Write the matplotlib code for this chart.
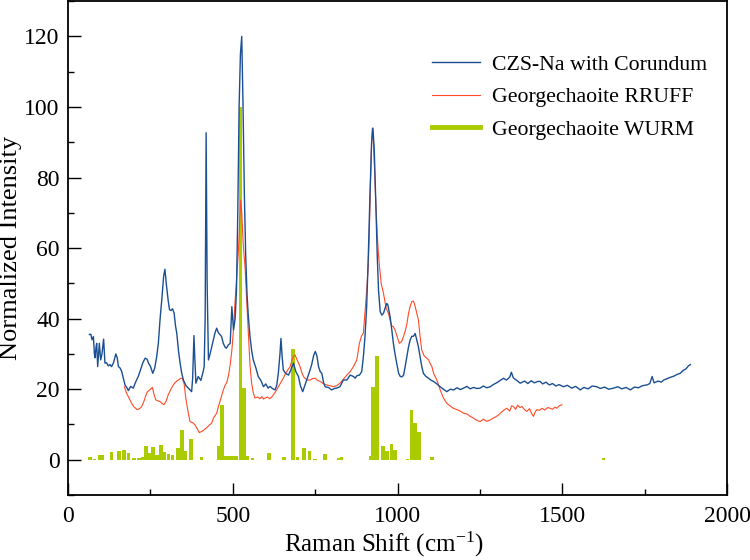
import matplotlib
matplotlib.use('Agg')
import matplotlib.pyplot as plt
from matplotlib.lines import Line2D
from matplotlib.ticker import MultipleLocator

plt.rcParams['font.family'] = ['Liberation Serif', 'DejaVu Serif']
plt.rcParams['mathtext.fontset'] = 'stix'

# CZS-Na with Corundum
czs_x = [65, 69, 73, 77, 80, 82, 85, 87, 90, 95, 99, 103, 108, 112, 117, 122, 127, 132, 138, 145,
         149, 153, 158, 163, 168, 173, 178, 183, 190, 198, 205, 213, 220, 227, 234, 240, 244, 250,
         257, 263, 269, 274, 279, 285, 290, 294, 298, 304, 308, 312, 317, 322, 326, 330, 335, 340,
         345, 350, 358, 365, 370, 375, 378, 382, 385, 388, 395, 403, 410, 413, 416, 419, 422, 426,
         431, 436, 441, 446, 451, 456, 461, 466, 471, 476, 480, 486, 492, 497, 502, 507, 511, 515,
         519, 523, 527, 531, 535, 539, 543, 547, 552, 557, 562, 570, 577, 585, 593, 600, 607, 613,
         620, 628, 633, 638, 643, 646, 649, 653, 660, 669, 676, 684, 691, 699, 705, 712, 718, 724,
         731, 739, 745, 750, 755, 760, 765, 770, 775, 780, 790, 800, 808, 815, 825, 835, 846, 856,
         866, 871, 876, 884, 891, 896, 901, 906, 911, 916, 921, 925, 929, 934, 938, 942, 947, 952,
         957, 962, 967, 970, 974, 977, 982, 987, 992, 997, 1003, 1008, 1013, 1018, 1023, 1028, 1033,
         1038, 1043, 1048, 1053, 1058, 1063, 1068, 1073, 1078, 1086, 1094, 1102, 1109, 1119, 1129,
         1139, 1149, 1160, 1170, 1180, 1190, 1200, 1210, 1220, 1230, 1240, 1250, 1260, 1270, 1281,
         1290, 1300, 1310, 1321, 1330, 1340, 1345, 1351, 1360, 1372, 1385, 1395, 1405, 1415, 1425,
         1432, 1440, 1450, 1460, 1470, 1480, 1490, 1503, 1515, 1528, 1540, 1554, 1565, 1578, 1590,
         1604, 1615, 1628, 1640, 1655, 1668, 1680, 1693, 1706, 1718, 1730, 1743, 1756, 1765, 1772,
         1778, 1790, 1800, 1807, 1818, 1828, 1838, 1848, 1857, 1866, 1875, 1882, 1888]
czs_y = [35.5, 35.6, 34.0, 34.9, 30.0, 28.9, 32.0, 33.0, 26.4, 33.0, 28.3, 30.0, 34.2, 27.4, 27.5,
         26.6, 27.0, 26.4, 27.5, 30.0, 29.0, 26.4, 26.0, 25.0, 23.0, 21.2, 20.5, 19.6, 20.8, 20.3,
         22.0, 23.6, 25.5, 27.5, 28.8, 28.5, 27.4, 26.5, 24.5, 26.0, 29.2, 33.0, 39.6, 46.0, 52.0,
         54.0, 50.0, 45.0, 42.5, 42.3, 42.8, 41.5, 38.0, 35.8, 31.0, 27.4, 24.5, 22.6, 21.0, 20.3,
         19.8, 19.3, 23.0, 35.2, 28.0, 21.7, 23.6, 22.5, 25.0, 26.4, 40.0, 92.7, 50.0, 28.3, 30.0,
         32.0, 34.0, 36.0, 37.3, 36.0, 35.5, 34.9, 33.0, 32.0, 31.6, 32.5, 33.0, 43.4, 36.8, 40.0,
         48.0, 70.0, 100.0, 115.0, 120.0, 100.0, 75.0, 58.0, 47.0, 40.6, 35.0, 31.0, 28.3, 26.0,
         23.6, 22.5, 20.7, 21.5, 20.3, 20.8, 20.2, 19.8, 21.0, 24.5, 30.0, 34.4, 30.0, 25.5, 24.5,
         24.0, 25.5, 27.4, 25.0, 23.6, 21.0, 19.3, 21.0, 22.6, 24.5, 26.9, 29.5, 30.7, 29.5, 26.4,
         25.0, 24.5, 22.0, 20.7, 20.5, 19.8, 20.2, 20.3, 20.7, 22.6, 22.6, 24.0, 23.6, 23.1, 23.8,
         24.0, 25.0, 29.2, 35.0, 43.4, 58.0, 75.0, 90.0, 94.0, 88.0, 72.0, 58.0, 48.0, 42.0, 41.0,
         41.5, 43.0, 44.3, 44.0, 42.0, 40.6, 37.0, 33.0, 30.0, 27.4, 24.5, 23.6, 23.5, 24.0, 26.5,
         29.2, 32.0, 34.0, 35.0, 35.0, 35.8, 34.0, 32.0, 29.2, 26.5, 24.5, 23.6, 23.1, 22.5, 22.2,
         21.5, 20.7, 20.0, 19.3, 20.0, 19.8, 20.4, 19.9, 20.3, 20.8, 20.1, 20.5, 20.2, 20.3, 20.9,
         20.4, 20.7, 21.3, 21.8, 22.4, 23.1, 22.6, 23.4, 24.8, 23.2, 22.6, 21.7, 22.3, 21.6, 22.4,
         21.8, 22.2, 22.2, 21.5, 22.0, 21.2, 21.6, 20.9, 21.3, 20.7, 21.1, 20.3, 20.8, 19.8, 20.5,
         20.1, 20.9, 20.7, 20.2, 20.6, 20.0, 20.3, 20.7, 20.1, 20.5, 19.8, 20.6, 20.4, 21.0, 21.2,
         21.6, 23.6, 21.8, 22.3, 22.0, 22.6, 23.0, 23.4, 23.7, 24.2, 24.5, 25.3, 25.8, 26.6, 27.0]

# Georgechaoite RRUFF
rruff_x = [171, 177, 185, 193, 200, 210, 217, 223, 230, 236, 241, 248, 256, 261, 266, 272, 279, 285,
           291, 297, 304, 312, 318, 325, 333, 342, 347, 352, 358, 365, 370, 378, 385, 392, 398, 405,
           410, 416, 425, 436, 441, 446, 451, 456, 461, 467, 472, 477, 482, 487, 492, 497, 502, 507,
           512, 517, 521, 524, 527, 531, 534, 537, 542, 547, 552, 557, 562, 567, 575, 582, 588, 593,
           598, 605, 612, 620, 627, 633, 640, 646, 653, 660, 667, 674, 680, 685, 689, 694, 699, 704,
           710, 715, 719, 726, 734, 742, 750, 757, 765, 775, 785, 795, 805, 815, 825, 835, 846, 856,
           866, 876, 884, 890, 896, 901, 906, 911, 915, 918, 921, 923, 926, 930, 934, 938, 942, 945,
           950, 957, 965, 972, 977, 982, 987, 992, 1000, 1005, 1012, 1018, 1023, 1028, 1033, 1038,
           1043, 1048, 1053, 1058, 1063, 1068, 1073, 1080, 1088, 1094, 1100, 1104, 1109, 1119, 1129,
           1139, 1149, 1160, 1169, 1180, 1190, 1200, 1210, 1220, 1230, 1240, 1250, 1260, 1270, 1281,
           1290, 1298, 1306, 1315, 1324, 1331, 1340, 1346, 1351, 1358, 1364, 1371, 1377, 1385, 1392,
           1400, 1406, 1412, 1417, 1422, 1430, 1438, 1446, 1455, 1463, 1470, 1477, 1483, 1490, 1498]
rruff_y = [20.7, 19.0, 17.5, 16.0, 15.0, 14.2, 14.5, 15.0, 16.5, 18.2, 19.3, 19.8, 20.5, 18.5, 17.0,
           16.7, 16.5, 16.0, 15.6, 16.5, 18.4, 20.0, 21.0, 21.9, 22.5, 23.1, 23.0, 21.7, 17.0, 13.2,
           10.8, 10.5, 9.9, 8.8, 7.7, 8.0, 8.3, 8.7, 9.5, 10.4, 11.8, 12.5, 13.2, 15.0, 16.5, 18.5,
           20.0, 21.2, 22.0, 24.0, 27.0, 31.0, 37.0, 45.3, 52.0, 59.4, 68.0, 73.6, 70.0, 62.0, 58.0,
           54.7, 45.0, 35.9, 27.0, 21.7, 19.0, 17.5, 17.8, 17.3, 17.9, 17.2, 17.5, 17.8, 17.3, 18.0,
           19.0, 19.8, 21.0, 22.0, 23.1, 24.5, 25.5, 26.4, 28.5, 29.5, 29.7, 28.5, 27.5, 26.4, 24.5,
           23.5, 23.1, 22.6, 22.6, 23.0, 23.1, 22.5, 22.2, 21.5, 21.2, 21.0, 20.7, 21.0, 21.7, 22.8,
           24.0, 25.0, 26.4, 28.3, 33.0, 35.0, 35.9, 42.0, 48.0, 55.0, 68.0, 80.0, 90.0, 94.0, 91.0,
           82.0, 72.0, 64.0, 58.0, 54.7, 50.0, 47.2, 43.0, 41.5, 39.6, 38.0, 37.7, 36.8, 34.5, 33.0,
           33.5, 35.0, 36.5, 38.5, 41.5, 43.5, 44.8, 45.0, 43.5, 41.5, 39.6, 35.0, 31.1, 29.5, 28.8,
           28.3, 27.0, 26.4, 24.5, 22.6, 19.8, 17.5, 16.0, 15.2, 14.6, 14.2, 13.8, 13.2, 13.0, 12.3,
           11.8, 11.2, 10.8, 11.5, 10.9, 11.3, 11.8, 12.2, 12.7, 13.5, 14.2, 14.6, 13.8, 15.3, 15.1,
           14.3, 15.5, 14.8, 15.1, 14.2, 13.7, 14.5, 13.2, 12.3, 13.5, 14.2, 14.0, 14.6, 14.1, 14.8,
           14.6, 14.3, 14.9, 14.6, 15.3, 15.6]

# Georgechaoite WURM (stick spectrum)
wurm_x = [67, 80, 95, 105, 132, 154, 169, 184, 200, 215, 228, 237, 247, 258, 270, 282, 293, 305,
          317, 334, 345, 355, 373, 405, 456, 468, 480, 492, 503, 510, 523, 534, 545, 560, 609, 655,
          683, 696, 716, 733, 750, 780, 820, 830, 918, 926, 937, 956, 968, 981, 992, 1030, 1042,
          1052, 1064, 1105, 1625]
wurm_y = [0.7, 0.3, 1.4, 1.4, 2.2, 2.6, 2.8, 1.9, 0.5, 0.5, 0.9, 3.8, 1.9, 3.6, 1.4, 4.2, 2.2, 1.7,
          1.4, 3.3, 8.3, 2.4, 5.8, 0.75, 3.8, 15.6, 1.2, 1.2, 1.2, 1.0, 100.0, 20.3, 1.0, 0.5, 1.9,
          0.9, 31.3, 0.9, 3.3, 2.5, 0.3, 1.6, 0.5, 0.7, 1.1, 20.7, 29.4, 3.8, 2.6, 4.5, 2.8, 0.3,
          14.0, 10.4, 8.0, 0.7, 0.5]

blue = '#1b4f93'
red = '#ff4a26'
green = '#aacb00'

fig = plt.figure(figsize=(7.5, 5.6), dpi=100)
ax = fig.add_axes([0.0907, 0.116, 0.879, 0.882])

ax.bar(wurm_x, wurm_y, width=11, color=green, linewidth=0, zorder=1)
ax.plot(czs_x, czs_y, color=blue, lw=1.0, zorder=3)
ax.plot(rruff_x, rruff_y, color=red, lw=0.8, zorder=2)

ax.set_xlim(0, 2000)
ax.set_ylim(-10, 130)
ax.xaxis.set_major_locator(MultipleLocator(500))
ax.xaxis.set_minor_locator(MultipleLocator(250))
ax.yaxis.set_major_locator(MultipleLocator(20))
ax.yaxis.set_minor_locator(MultipleLocator(10))
ax.set_yticks([0, 20, 40, 60, 80, 100, 120])
ax.tick_params(which='both', direction='in', labelsize=17, width=1.0)
ax.tick_params(which='major', length=9)
ax.tick_params(axis='x', which='major', pad=8)
ax.tick_params(axis='y', which='major', pad=6)
ax.tick_params(which='minor', length=4.5)
for s in ax.spines.values():
    s.set_linewidth(1.3)

ax.set_xlabel('Raman Shift (cm$^{\\mathregular{-1}}$)', fontsize=18, labelpad=0)
ax.xaxis.set_label_coords(0.48, -0.07)
ax.set_ylabel('Normalized Intensity', fontsize=19, labelpad=2)

handles = [Line2D([], [], color=blue, lw=1.0),
           Line2D([], [], color=red, lw=0.8),
           Line2D([], [], color=green, lw=3.5)]
labels = ['CZS-Na with Corundum', 'Georgechaoite RRUFF', 'Georgechaoite WURM']
ax.legend(handles, labels, loc='upper left', bbox_to_anchor=(0.552, 0.892), frameon=False,
          fontsize=15.7, handlelength=2.2, handletextpad=0.55, labelspacing=0.56,
          borderpad=0, borderaxespad=0)

fig.savefig('out.png', dpi=100)
